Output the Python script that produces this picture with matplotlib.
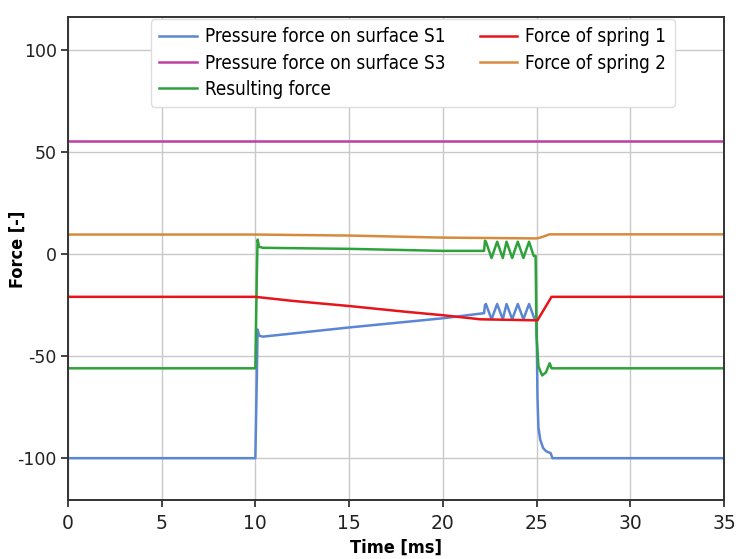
import matplotlib
matplotlib.use("Agg")
import matplotlib.pyplot as plt

plt.rcParams['font.family'] = ['DejaVu Sans']
plt.rcParams['axes.unicode_minus'] = False

# data (time in ms, force in -)
t_s1 = [0, 10.0, 10.08, 10.12, 10.2, 10.4, 15, 20, 22.2, 22.25, 22.3, 22.6, 22.9, 23.2, 23.4,
        23.7, 24.0, 24.3, 24.6, 24.9, 25.0, 25.05, 25.1, 25.2, 25.35, 25.5, 25.6, 25.75, 25.85, 35]
f_s1 = [-100, -100, -60, -37, -40, -40.5, -36, -31.5, -29, -25, -24.5, -32, -24.5, -32, -24.5,
        -32, -24.5, -32, -24.5, -32, -32, -70, -85, -91, -95, -96.5, -97, -97.5, -100, -100]

t_s3 = [0, 35]
f_s3 = [55.5, 55.5]

t_res = [0, 10.0, 10.08, 10.12, 10.2, 10.4, 15, 20, 22.2, 22.25, 22.3, 22.6, 22.9, 23.2, 23.4,
         23.7, 24.0, 24.3, 24.6, 24.85, 24.95, 25.0, 25.1, 25.3, 25.5, 25.7, 25.8, 35]
f_res = [-56, -56, -10, 7, 3.5, 3, 2.5, 1.5, 1.5, 6.5, 6, -2, 6, -2, 6,
         -2, 6, -2, 6, -1, -1, -40, -55, -59.5, -58, -53.5, -56, -56]

t_sp1 = [0, 10.0, 10.3, 12, 15, 18, 20, 21, 22, 24.9, 25.05, 25.8, 35]
f_sp1 = [-21, -21, -21.3, -23, -25.5, -28.3, -30, -31, -32, -32.5, -32.5, -21, -21]

t_sp2 = [0, 10.0, 15, 20, 25.0, 25.2, 25.7, 35]
f_sp2 = [9.5, 9.5, 9.0, 8.0, 7.6, 8.0, 9.6, 9.6]

x_ticks = [0, 5, 10, 15, 20, 25, 30, 35]
y_ticks = [-100, -50, 0, 50, 100]

fig = plt.figure(figsize=(7.46, 5.59), dpi=100)
ax = fig.add_axes([0.091, 0.1055, 0.8795, 0.864])

ax.grid(True, color='#c8c8c8', linewidth=1.0, zorder=0)
ax.set_axisbelow(True)

lw = 1.8
ax.plot(t_s1, f_s1, color='#5b86d4', linewidth=lw, label='Pressure force on surface S1')
ax.plot(t_s3, f_s3, color='#bd3fa3', linewidth=lw, label='Pressure force on surface S3')
ax.plot(t_res, f_res, color='#2ea23a', linewidth=lw, label='Resulting force')
ax.plot(t_sp1, f_sp1, color='#e8141a', linewidth=lw, label='Force of spring 1')
ax.plot(t_sp2, f_sp2, color='#d88a3c', linewidth=lw, label='Force of spring 2')

ax.set_xlim(0, 35)
ax.set_ylim(-120.5, 116)
ax.set_xticks(x_ticks)
ax.set_yticks(y_ticks)
ax.tick_params(axis='both', direction='out', length=5, width=1.2, colors='#222222')
ax.tick_params(axis='y', labelsize=12.5, pad=3)
ax.tick_params(axis='x', labelsize=13.5, pad=5)

for s in ax.spines.values():
    s.set_linewidth(1.4)
    s.set_color('#333333')

ax.set_xlabel('Time [ms]', fontsize=13, fontweight='bold', fontstretch='condensed', labelpad=4)
ax.set_ylabel('Force [-]', fontsize=13, fontweight='bold', fontstretch='condensed')
ax.yaxis.set_label_coords(-0.062, 0.52)

leg = ax.legend(ncol=2, prop={'size': 13.5, 'stretch': 'condensed'}, loc='upper left',
                bbox_to_anchor=(0.1265, 0.996), borderaxespad=0.0, handlelength=2.0,
                handletextpad=0.45, columnspacing=1.8, labelspacing=0.38, borderpad=0.45,
                framealpha=1.0, edgecolor='#dddddd', fancybox=True)

fig.savefig('out.png', dpi=100)
